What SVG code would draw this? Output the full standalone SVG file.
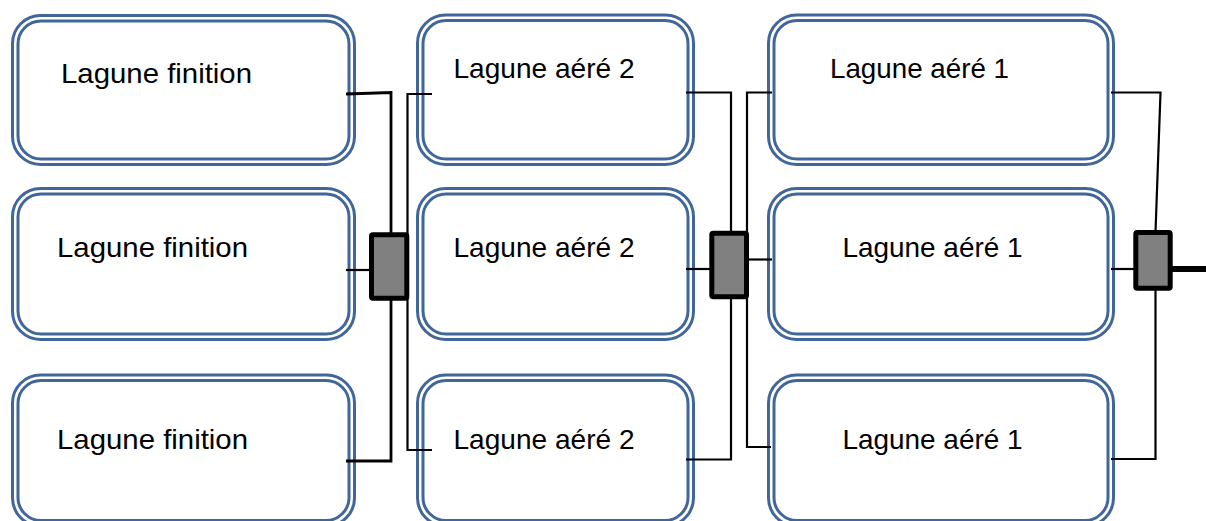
<svg xmlns="http://www.w3.org/2000/svg" width="1206" height="521" viewBox="0 0 1206 521">
<style>
.o{fill:#fff;stroke:#41679a;stroke-width:3}
.i{fill:none;stroke:#41679a;stroke-width:3}
.t{font-family:"Liberation Sans",Arial,sans-serif;font-size:28px;fill:#000}
.c{fill:none;stroke:#000;stroke-width:2.2;stroke-linejoin:miter}
.j{fill:#808080;stroke:#000;stroke-width:5;stroke-linejoin:round}
</style>
<rect width="1206" height="521" fill="#fff"/>
<g id="n11"><rect class="o" x="12.5" y="15.5" width="342" height="149" rx="28"/><rect class="i" x="18" y="21" width="331" height="138" rx="23"/><text class="t" x="61" y="83" textLength="191" lengthAdjust="spacingAndGlyphs">Lagune finition</text></g>
<g id="n21"><rect class="o" x="12.5" y="188.5" width="342" height="151" rx="28"/><rect class="i" x="18" y="194" width="331" height="140" rx="23"/><text class="t" x="57" y="257" textLength="191" lengthAdjust="spacingAndGlyphs">Lagune finition</text></g>
<g id="n31"><rect class="o" x="12.5" y="375" width="342" height="151" rx="28"/><rect class="i" x="18" y="380.5" width="331" height="140" rx="23"/><text class="t" x="57" y="449" textLength="191" lengthAdjust="spacingAndGlyphs">Lagune finition</text></g>
<g id="n12"><rect class="o" x="417.5" y="15" width="276" height="149.5" rx="28"/><rect class="i" x="423" y="20.5" width="265" height="138.5" rx="23"/><text class="t" x="453.5" y="78" textLength="181" lengthAdjust="spacingAndGlyphs">Lagune aéré 2</text></g>
<g id="n22"><rect class="o" x="417.5" y="188.5" width="276" height="151" rx="28"/><rect class="i" x="423" y="194" width="265" height="140" rx="23"/><text class="t" x="453.5" y="257" textLength="181" lengthAdjust="spacingAndGlyphs">Lagune aéré 2</text></g>
<g id="n32"><rect class="o" x="417.5" y="375" width="276" height="151" rx="28"/><rect class="i" x="423" y="380.5" width="265" height="140" rx="23"/><text class="t" x="453.5" y="449" textLength="181" lengthAdjust="spacingAndGlyphs">Lagune aéré 2</text></g>
<g id="n13"><rect class="o" x="768.5" y="15" width="345" height="149.5" rx="28"/><rect class="i" x="774" y="20.5" width="334" height="138.5" rx="23"/><text class="t" x="830" y="78" textLength="179" lengthAdjust="spacingAndGlyphs">Lagune aéré 1</text></g>
<g id="n23"><rect class="o" x="768.5" y="188.5" width="345" height="151" rx="28"/><rect class="i" x="774" y="194" width="334" height="140" rx="23"/><text class="t" x="842.5" y="257" textLength="180" lengthAdjust="spacingAndGlyphs">Lagune aéré 1</text></g>
<g id="n33"><rect class="o" x="768.5" y="375" width="345" height="151" rx="28"/><rect class="i" x="774" y="380.5" width="334" height="140" rx="23"/><text class="t" x="842.5" y="449" textLength="180" lengthAdjust="spacingAndGlyphs">Lagune aéré 1</text></g>
<g id="connectors">
<path class="c" d="M346 94 L391 92.5 L391 461 L346 461" style="stroke-width:2.8"/>
<path class="c" d="M346 270 L371 270"/>
<path class="c" d="M432 94 L407.5 94 L407.5 450 L432 450"/>
<path class="c" d="M686 92.5 L731 92.5 L731 459.5 L686 459.5"/>
<path class="c" d="M686 269 L711 269"/>
<path class="c" d="M772 92.5 L747 92.5 L747 447 L771 447"/>
<path class="c" d="M747 259.5 L772 259.5"/>
<path class="c" d="M1111 92.5 L1160.5 92.5 L1155.5 232"/>
<path class="c" d="M1155.5 290 L1155.5 459 L1111 459"/>
<path class="c" d="M1111 269 L1135 269"/>
<path d="M1172 269 L1206 269" stroke="#000" stroke-width="6" fill="none"/>
<g id="junctions">
<rect class="j" x="371.5" y="234.8" width="35.3" height="63.4" rx="1.5"/>
<rect class="j" x="711.8" y="233.2" width="34.7" height="63.6" rx="1.5"/>
<rect class="j" x="1135.8" y="232.5" width="34.4" height="55.7" rx="1.5"/>
</g>
</g>
</svg>
